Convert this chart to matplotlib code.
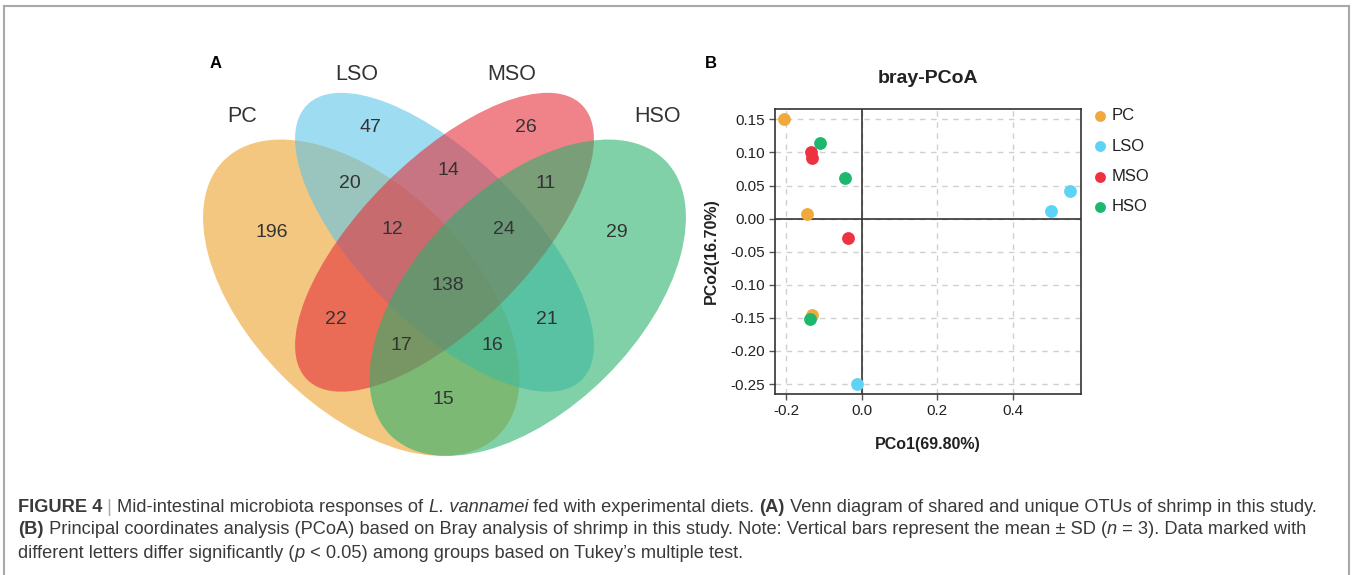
import matplotlib
matplotlib.use("Agg")
import matplotlib.pyplot as plt
from matplotlib.patches import Ellipse
from matplotlib.lines import Line2D
import numpy as np

plt.rcParams['font.family'] = ['Liberation Sans', 'DejaVu Sans']

W, H = 1352, 575

# ---- data ----
groups = ["PC", "LSO", "MSO", "HSO"]
venn_counts = [47, 26, 20, 14, 11, 196, 12, 24, 29, 138, 22, 21, 17, 16, 15]

pc_x = [-0.204, -0.145, -0.130]
pc_y = [0.150, 0.007, -0.146]
lso_x = [0.552, 0.502, -0.013]
lso_y = [0.041, 0.011, -0.250]
mso_x = [-0.134, -0.130, -0.036]
mso_y = [0.101, 0.092, -0.030]
hso_x = [-0.109, -0.045, -0.136]
hso_y = [0.114, 0.062, -0.152]

xticks = [-0.2, 0.0, 0.2, 0.4]
yticks = [0.15, 0.10, 0.05, 0.00, -0.05, -0.10, -0.15, -0.20, -0.25]

# ---- layout ----
venn_fill = ['#EEA32B', '#5CC5E9', '#E6303A', '#2BB16E']
dot_cols = ['#F0A93A', '#5DD3F5', '#EE3340', '#1DB86E']
# ellipse layout in unit square (center, width, height, angle)
ell_geo = [((0.35, 0.47), 0.70, 0.40, -45),
           ((0.50, 0.57), 0.70, 0.30, -45),
           ((0.50, 0.57), 0.70, 0.30, 45),
           ((0.65, 0.47), 0.70, 0.40, 45)]
# label positions in pixels
count_pos = [(370, 128), (526, 128), (350, 183), (448, 171), (546, 183),
             (272, 233), (392, 229), (504, 229), (617, 233), (448, 285),
             (336, 319), (547, 319), (401, 345), (492, 345), (443, 399)]
name_pos = [(242, 116), (357, 75), (512, 75), (658, 116)]


def px(x, y):
    return x / W, 1 - y / H


fig = plt.figure(figsize=(W / 100, H / 100), dpi=100)

# frame around figure
for xs, ys in [([4, 4], [6, H + 5]), ([4, 1349], [6, 6]), ([1349, 1349], [6, H + 5])]:
    p = [px(a, b) for a, b in zip(xs, ys)]
    fig.add_artist(Line2D([p[0][0], p[1][0]], [p[0][1], p[1][1]],
                          transform=fig.transFigure, color='#a8a8a8', lw=1.5))

# ---- Venn ----
s = 555
axv = fig.add_axes([167 / W, 16.4 / H, s / W, s / H])
axv.set_xlim(0, 1)
axv.set_ylim(0, 1)
axv.axis('off')
for (c, w, h, ang), col in zip(ell_geo, venn_fill):
    axv.add_patch(Ellipse(c, w, h, angle=ang, facecolor=col, alpha=0.6, lw=0))

for n, (x, y) in zip(venn_counts, count_pos):
    fig.text(*px(x, y), str(n), ha='center', va='center', fontsize=14, color='#333333')
for g, (x, y) in zip(groups, name_pos):
    fig.text(*px(x, y), g, ha='center', va='center', fontsize=15.5, color='#333333')

fig.text(*px(216, 63), "A", ha='center', va='center', fontsize=12, fontweight='bold')
fig.text(*px(711, 63), "B", ha='center', va='center', fontsize=12, fontweight='bold')

# ---- PCoA ----
ax = fig.add_axes([775 / W, (H - 394) / H, 306 / W, 285 / H])
xs_all = [pc_x, lso_x, mso_x, hso_x]
ys_all = [pc_y, lso_y, mso_y, hso_y]
for g, xx, yy, col in zip(groups, xs_all, ys_all, dot_cols):
    ax.scatter(xx, yy, s=85, color=col, label=g, zorder=3, linewidths=0)
ax.set_xlim(-0.229, 0.58)
ax.set_ylim(-0.265, 0.1656)
ax.set_xticks(xticks)
ax.set_xticklabels([f"{v:.1f}" for v in xticks])
ax.set_yticks(yticks)
ax.set_yticklabels([f"{v:.2f}" for v in yticks])
ax.grid(True, color='#d0d0d0', linestyle=(0, (4, 4)), lw=1)
ax.set_axisbelow(True)
ax.axhline(0, color='#333333', lw=1.2, zorder=2)
ax.axvline(0, color='#333333', lw=1.2, zorder=2)
for sp in ax.spines.values():
    sp.set_color('#333333')
    sp.set_linewidth(1.2)
ax.tick_params(direction='out', length=4, width=1, color='#555555',
               labelsize=11, labelcolor='#222222')
ax.set_xlabel("PCo1(69.80%)", fontsize=11.5, fontweight='bold', color='#222222')
ax.set_ylabel("PCo2(16.70%)", fontsize=11.5, fontweight='bold', color='#222222')
ax.xaxis.set_label_coords(0.5, -0.15)
ax.yaxis.set_label_coords(-0.183, 0.5)
ax.text(0.5, 1.108, "bray-PCoA", transform=ax.transAxes, ha='center', va='center',
        fontsize=14, fontweight='bold', color='#222222')
leg = ax.legend(loc='upper left', bbox_to_anchor=(1082 / W, 1 - 100 / H),
                bbox_transform=fig.transFigure, frameon=False, fontsize=12,
                markerscale=0.85, handletextpad=0.15, labelspacing=0.92,
                borderpad=0, handlelength=1.1)
for t in leg.get_texts():
    t.set_color('#222222')

# ---- caption ----
renderer = fig.canvas.get_renderer()
cap_col = '#3a3a3a'


def run_width(text, size, props):
    t = fig.text(0, 0, '|' + text + '|', fontsize=size, **props)
    w1 = t.get_window_extent(renderer).width
    t.set_text('||')
    w0 = t.get_window_extent(renderer).width
    t.remove()
    return w1 - w0


NORM = {}
BOLD = {'fontweight': 'bold'}
ITAL = {'fontstyle': 'italic'}
BAR = {'color': '#aaaaaa'}

lines = [
    [("FIGURE 4", BOLD), (" | ", BAR), ("Mid-intestinal microbiota responses of ", NORM),
     ("L. vannamei", ITAL), (" fed with experimental diets. ", NORM), ("(A)", BOLD),
     (" Venn diagram of shared and unique OTUs of shrimp in this study.", NORM)],
    [("(B)", BOLD), (" Principal coordinates analysis (PCoA) based on Bray analysis of shrimp in this study. "
                     "Note: Vertical bars represent the mean \u00b1 SD (", NORM), ("n", ITAL),
     (" = 3). Data marked with", NORM)],
    [("different letters differ significantly (", NORM), ("p", ITAL),
     (" < 0.05) among groups based on Tukey\u2019s multiple test.", NORM)],
]
line_y = [507, 530, 553]

base = 10
w_first = sum(run_width(t, base, p) for t, p in lines[0])
size = base * 1300 / w_first

for runs, y in zip(lines, line_y):
    x = 18
    for text, props in runs:
        kw = {'color': cap_col}
        kw.update(props)
        fig.text(*px(x, y), text, fontsize=size, va='center', ha='left', **kw)
        x += run_width(text, size, props)

fig.savefig("out.png", dpi=100)
